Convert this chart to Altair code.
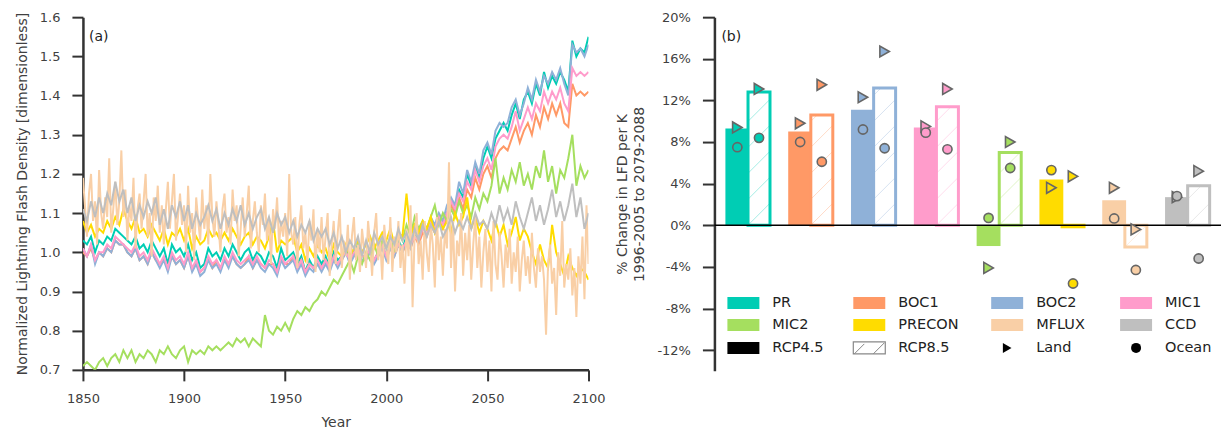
import altair as alt
import pandas as pd

# ---------------- data ----------------
models = ["PR", "BOC1", "BOC2", "MIC1", "MIC2", "PRECON", "MFLUX", "CCD"]
colors = ["#00CDB4", "#FF9966", "#8FB1D8", "#FF9CCB", "#A5DF5F", "#FFDC00", "#F9CFA6", "#BFBFBF"]

years = list(range(1850, 2101, 2))        # most series read every 2 years
years_annual = list(range(1850, 2101))    # MFLUX read every year (very noisy)

PR = [1.03, 1.02, 1.04, 1.00, 1.03,
      1.02, 1.04, 1.03, 1.06, 1.05,
      1.04, 1.03, 1.02, 1.04, 1.01,
      1.02, 1.00, 1.03, 1.01, 0.99,
      1.01, 0.97, 1.02, 1.00, 1.01,
      0.99, 1.02, 0.98, 1.00, 0.96,
      0.97, 1.01, 0.99, 1.00, 0.98,
      1.01, 0.99, 1.02, 1.00, 0.98,
      1.00, 1.01, 0.98, 1.00, 0.99,
      0.97, 1.00, 0.99, 0.96, 1.01,
      0.98, 0.99, 1.00, 0.97, 0.99,
      0.95, 0.98, 0.96, 0.99, 0.97,
      0.99, 0.96, 1.00, 0.98, 0.99,
      1.01, 0.98, 1.00, 1.02, 0.99,
      0.99, 1.01, 0.98, 1.00, 1.02,
      0.99, 1.02, 1.00, 1.03, 1.01,
      1.04, 1.02, 1.05, 1.03, 1.06,
      1.05, 1.08, 1.06, 1.09, 1.08,
      1.10, 1.13, 1.11, 1.16, 1.14,
      1.20, 1.17, 1.22, 1.19, 1.24,
      1.27, 1.24, 1.29, 1.31, 1.33,
      1.31, 1.35, 1.38, 1.34, 1.39,
      1.41, 1.38, 1.43, 1.40, 1.46,
      1.42, 1.45, 1.43, 1.46, 1.44,
      1.41, 1.54, 1.50, 1.52, 1.51,
      1.55]

BOC1 = [1.00, 0.99, 1.01, 0.98, 1.00,
        0.99, 1.01, 1.00, 1.03, 1.02,
        1.02, 1.00, 0.99, 1.01, 0.98,
        0.99, 0.97, 1.00, 0.98, 0.97,
        0.98, 0.96, 0.99, 0.97, 0.98,
        0.96, 0.99, 0.96, 0.97, 0.95,
        0.96, 0.98, 0.96, 0.98, 0.96,
        0.98, 0.97, 0.99, 0.97, 0.96,
        0.97, 0.99, 0.96, 0.98, 0.97,
        0.96, 0.97, 0.97, 0.95, 0.98,
        0.97, 0.97, 0.99, 0.96, 0.98,
        0.95, 0.97, 0.96, 0.97, 0.96,
        0.98, 0.96, 0.98, 0.97, 0.98,
        1.00, 0.98, 0.99, 1.01, 0.99,
        0.99, 1.00, 0.98, 1.00, 1.01,
        0.99, 1.01, 0.99, 1.02, 1.00,
        1.02, 1.01, 1.04, 1.02, 1.05,
        1.04, 1.07, 1.05, 1.08, 1.06,
        1.09, 1.12, 1.10, 1.14, 1.11,
        1.16, 1.14, 1.19, 1.16, 1.20,
        1.22, 1.19, 1.24, 1.26, 1.27,
        1.26, 1.29, 1.32, 1.28, 1.31,
        1.33, 1.30, 1.35, 1.32, 1.37,
        1.34, 1.38, 1.35, 1.38, 1.33,
        1.32, 1.43, 1.40, 1.41, 1.40,
        1.41]

BOC2 = [1.01, 0.99, 1.02, 0.97, 1.00,
        0.99, 1.01, 1.00, 1.03, 1.02,
        1.02, 1.00, 0.99, 1.01, 0.98,
        0.99, 0.97, 1.00, 0.98, 0.96,
        0.98, 0.95, 0.99, 0.97, 0.98,
        0.96, 0.99, 0.95, 0.97, 0.94,
        0.95, 0.98, 0.96, 0.97, 0.95,
        0.98, 0.96, 0.99, 0.97, 0.96,
        0.97, 0.98, 0.96, 0.98, 0.96,
        0.95, 0.97, 0.96, 0.94, 0.98,
        0.96, 0.97, 0.98, 0.95, 0.97,
        0.94, 0.96, 0.95, 0.97, 0.95,
        0.97, 0.95, 0.98, 0.96, 0.98,
        1.00, 0.97, 0.99, 1.01, 0.98,
        0.98, 1.00, 0.97, 0.99, 1.01,
        0.98, 1.01, 0.99, 1.02, 1.00,
        1.03, 1.01, 1.05, 1.04, 1.07,
        1.05, 1.09, 1.07, 1.10, 1.08,
        1.12, 1.14, 1.12, 1.18, 1.15,
        1.21, 1.18, 1.23, 1.20, 1.26,
        1.28, 1.25, 1.31, 1.33, 1.32,
        1.33, 1.37, 1.39, 1.35, 1.38,
        1.42, 1.39, 1.44, 1.41, 1.45,
        1.43, 1.46, 1.44, 1.47, 1.43,
        1.40, 1.53, 1.51, 1.52, 1.50,
        1.53]

MIC1 = [1.01, 0.99, 1.02, 0.98, 1.00,
        1.00, 1.02, 1.01, 1.04, 1.03,
        1.02, 1.01, 1.00, 1.02, 0.99,
        1.00, 0.98, 1.01, 0.99, 0.97,
        0.99, 0.96, 1.00, 0.98, 0.99,
        0.97, 1.00, 0.96, 0.98, 0.95,
        0.96, 0.99, 0.97, 0.98, 0.96,
        0.99, 0.97, 1.00, 0.98, 0.97,
        0.98, 0.99, 0.97, 0.99, 0.97,
        0.96, 0.98, 0.97, 0.95, 0.99,
        0.97, 0.98, 0.99, 0.96, 0.98,
        0.95, 0.97, 0.96, 0.98, 0.96,
        0.98, 0.96, 0.99, 0.97, 0.99,
        1.00, 0.98, 1.00, 1.01, 0.99,
        0.99, 1.01, 0.98, 1.00, 1.02,
        0.99, 1.02, 1.00, 1.02, 1.01,
        1.03, 1.02, 1.04, 1.03, 1.06,
        1.05, 1.08, 1.06, 1.09, 1.07,
        1.10, 1.13, 1.11, 1.15, 1.13,
        1.18, 1.16, 1.21, 1.18, 1.22,
        1.24, 1.21, 1.27, 1.29, 1.30,
        1.29, 1.32, 1.36, 1.31, 1.34,
        1.37, 1.34, 1.38, 1.36, 1.41,
        1.38, 1.41, 1.39, 1.42, 1.38,
        1.36, 1.47, 1.45, 1.46, 1.45,
        1.46]

MIC2 = [0.71, 0.72, 0.71, 0.70, 0.72,
        0.73, 0.71, 0.73, 0.74, 0.72,
        0.75, 0.73, 0.75, 0.72, 0.74,
        0.73, 0.75, 0.74, 0.72, 0.75,
        0.74, 0.76, 0.74, 0.73, 0.75,
        0.76, 0.72, 0.75, 0.74, 0.75,
        0.74, 0.76, 0.75, 0.76, 0.75,
        0.76, 0.77, 0.76, 0.78, 0.77,
        0.78, 0.76, 0.78, 0.77, 0.76,
        0.84, 0.80, 0.79, 0.81, 0.80,
        0.82, 0.80, 0.83, 0.85, 0.84,
        0.86, 0.85, 0.87, 0.88, 0.90,
        0.89, 0.91, 0.93, 0.92, 0.94,
        0.96, 0.98, 0.95, 0.99, 0.97,
        1.00, 0.98, 1.02, 0.99, 1.03,
        1.01, 1.04, 1.00, 1.05, 1.03,
        1.07, 1.04, 1.09, 1.06, 1.08,
        1.06, 1.09, 1.12, 1.07, 1.10,
        1.08, 1.11, 1.09, 1.13, 1.10,
        1.12, 1.09, 1.14, 1.11, 1.15,
        1.13, 1.17, 1.24, 1.15, 1.19,
        1.16, 1.21, 1.18, 1.23, 1.17,
        1.20, 1.16, 1.22, 1.19, 1.26,
        1.18, 1.22, 1.15, 1.21, 1.19,
        1.24, 1.30, 1.17, 1.22, 1.19,
        1.21]

PRECON = [1.08, 1.05, 1.07, 1.04, 1.06,
          1.05, 1.08, 1.06, 1.09, 1.07,
          1.11, 1.08, 1.06, 1.09, 1.05,
          1.06, 1.04, 1.07, 1.05, 1.03,
          1.06, 1.02, 1.05, 1.04, 1.06,
          1.03, 1.06, 1.01, 1.04, 1.02,
          1.03, 1.06, 1.04, 1.05, 1.03,
          1.05, 1.03, 1.06, 1.04, 1.02,
          1.04, 1.05, 1.02, 1.04, 1.03,
          1.01, 1.04, 1.08, 1.00, 1.03,
          1.02, 1.03, 1.04, 1.00, 1.02,
          0.98, 1.01, 0.99, 1.02, 1.00,
          1.01, 0.98, 1.02, 1.00, 0.99,
          1.02, 0.99, 1.01, 1.03, 1.00,
          1.02, 1.04, 1.01, 1.03, 1.05,
          1.03, 1.06, 1.02, 1.05, 1.04,
          1.15, 1.04, 1.07, 1.05, 1.08,
          1.06, 1.09, 1.05, 1.08, 1.06,
          1.08, 1.05, 1.10, 1.07, 1.09,
          1.14, 1.06, 1.09, 1.05, 1.08,
          1.06, 1.03, 1.08, 1.04, 1.07,
          1.02, 1.05, 1.09, 1.03, 1.06,
          1.04, 1.00, 0.97, 1.02, 0.98,
          0.96, 1.07, 1.00, 0.97, 0.94,
          0.99, 0.96, 0.94, 0.96, 0.95,
          0.93]

MFLUX = [1.19, 1.12, 1.04, 1.15, 1.20, 1.08, 1.13, 1.02, 1.21, 1.10,
         1.06, 1.14, 1.09, 1.24, 1.05, 1.11, 1.18, 1.07, 1.13, 1.26,
         1.09, 1.16, 1.03, 1.12, 1.08, 1.19, 1.01, 1.11, 1.15, 1.06,
         1.13, 1.20, 1.04, 1.10, 0.99, 1.14, 1.08, 1.17, 1.05, 1.12,
         1.02, 1.11, 1.18, 1.06, 1.13, 1.20, 1.03, 1.09, 1.15, 1.07,
         1.12, 1.00, 1.17, 1.05, 1.10, 0.98, 1.14, 1.08, 1.03, 1.16,
         1.06, 1.12, 1.02, 1.20, 1.09, 1.04, 1.13, 1.07, 1.00, 1.11,
         1.15, 1.05, 1.09, 1.02, 1.16, 1.08, 1.12, 0.99, 1.06, 1.14,
         1.04, 1.10, 1.17, 1.01, 1.08, 1.13, 1.05, 1.00, 1.12, 1.07,
         1.15, 1.03, 1.09, 0.97, 1.11, 1.06, 1.14, 1.02, 1.08, 1.04,
         1.10, 0.99, 1.20, 1.05, 1.02, 1.09, 0.96, 1.07, 1.12, 1.01,
         1.05, 0.97, 1.08, 1.03, 1.11, 0.95, 1.06, 1.00, 1.09, 0.98,
         1.04, 1.10, 0.94, 1.02, 1.08, 0.97, 1.05, 1.11, 0.96, 1.03,
         0.99, 1.07, 0.93, 1.04, 1.09, 0.98, 1.02, 0.95, 1.06, 1.01,
         0.96, 1.08, 1.02, 0.94, 1.05, 1.10, 0.98, 1.03, 0.93, 1.07,
         1.01, 0.97, 1.09, 0.95, 1.04, 1.00, 1.08, 0.96, 1.02, 0.92,
         1.06, 0.99, 1.12, 0.86, 1.04, 1.10, 0.97, 1.03, 0.93, 1.08,
         1.00, 0.95, 1.07, 1.02, 0.91, 1.09, 0.98, 1.04, 0.94, 1.06,
         1.01, 1.23, 0.96, 1.08, 0.90, 1.03, 0.99, 1.10, 0.94, 1.05,
         0.98, 1.07, 0.93, 1.02, 1.09, 0.96, 1.04, 0.91, 1.00, 1.06,
         0.95, 1.03, 0.90, 1.08, 0.97, 0.93, 1.05, 0.99, 0.91, 1.02,
         0.96, 1.06, 0.92, 1.00, 0.95, 1.04, 0.90, 0.98, 1.03, 0.94,
         0.99, 0.92, 1.05, 0.96, 0.91, 1.01, 0.95, 0.99, 0.93, 0.79,
         0.97, 1.02, 0.92, 0.96, 0.84, 1.00, 0.94, 1.08, 0.91, 0.97,
         0.93, 1.01, 0.89, 0.96, 0.835, 0.99, 0.92, 1.04, 0.88, 1.12,
         0.97]

CCD = [1.11, 1.08, 1.13, 1.09, 1.14,
       1.10, 1.15, 1.12, 1.18, 1.13,
       1.16, 1.10, 1.14, 1.08, 1.12,
       1.09, 1.13, 1.10, 1.14, 1.07,
       1.11, 1.06, 1.12, 1.09, 1.13,
       1.08, 1.12, 1.06, 1.10, 1.07,
       1.09, 1.12, 1.08, 1.11, 1.06,
       1.10, 1.07, 1.11, 1.08, 1.12,
       1.07, 1.10, 1.06, 1.09, 1.11,
       1.06, 1.09, 1.05, 1.10, 1.07,
       1.09, 1.05, 1.08, 1.04, 1.07,
       1.05, 1.08, 1.03, 1.06, 1.04,
       1.06, 1.02, 1.05, 1.01, 1.04,
       1.00, 1.03, 1.01, 1.04, 0.99,
       1.03, 1.00, 1.05, 1.02, 1.04,
       1.01, 1.04, 1.02, 1.06, 1.03,
       1.05, 1.02, 1.06, 1.03, 1.07,
       1.04, 1.07, 1.05, 1.08, 1.04,
       1.06, 1.09, 1.05, 1.08, 1.06,
       1.09, 1.06, 1.10, 1.07, 1.08,
       1.06, 1.10, 1.07, 1.12, 1.08,
       1.11, 1.07, 1.13, 1.09, 1.06,
       1.10, 1.14, 1.08, 1.12, 1.07,
       1.11, 1.16, 1.09, 1.13, 1.08,
       1.12, 1.175, 1.09, 1.14, 1.06,
       1.10]

series = [PR, BOC1, BOC2, MIC1, MIC2, PRECON, MFLUX, CCD]
series_years = [years, years, years, years, years, years, years_annual, years]

# panel (b): % change in LFD per K
rcp45_total = [9.3, 9.0, 11.1, 9.4, -2.0, 4.4, 2.4, 2.7]
rcp85_total = [12.8, 10.6, 13.2, 11.4, 7.0, -0.15, -2.1, 3.8]
rcp45_land = [9.4, 9.8, 12.3, 9.5, -4.1, 3.6, 3.6, 2.7]
rcp45_ocean = [7.5, 8.0, 9.2, 8.9, 0.7, 5.3, 0.65, 2.8]
rcp85_land = [13.1, 13.5, 16.7, 13.1, 8.0, 4.7, -0.4, 5.2]
rcp85_ocean = [8.4, 6.1, 7.4, 7.3, 5.5, -5.6, -4.3, -3.2]

scen_labels = ["RCP4.5", "RCP8.5"]
region_labels = ["Land", "Ocean"]

# ---------------- style constants ----------------
FONT = "DejaVu Sans"
TXT = "#404040"
AX = "#333333"

axis_common = dict(domainColor=AX, domainWidth=2.5, tickColor=AX, tickWidth=2,
                   tickSize=11, labelFont=FONT, labelFontSize=13, labelColor=TXT,
                   titleFont=FONT, titleFontSize=14, titleColor=TXT,
                   titleFontWeight="normal", grid=False, labelPadding=12,
                   labelFlush=False, labelOverlap=False)

# ---------------- panel (a) ----------------
rows = []
for m, yrs, vals in zip(models, series_years, series):
    assert len(vals) == len(yrs), (m, len(vals))
    for y, v in zip(yrs, vals):
        rows.append({"year": y, "value": v, "model": m, "ord": models.index(m)})
ts = pd.DataFrame(rows)

cscale = alt.Scale(domain=models, range=colors)

W, H = 506, 353

lines = alt.Chart(ts).mark_line(strokeWidth=2, clip=True).encode(
    x=alt.X("year:Q", scale=alt.Scale(domain=[1850, 2100], nice=False, zero=False),
            axis=alt.Axis(values=[1850, 1900, 1950, 2000, 2050, 2100], format="d",
                          title="Year", titlePadding=10, **axis_common)),
    y=alt.Y("value:Q", scale=alt.Scale(domain=[0.7, 1.6], nice=False, zero=False),
            axis=alt.Axis(values=[0.7, 0.8, 0.9, 1.0, 1.1, 1.2, 1.3, 1.4, 1.5, 1.6],
                          format=".1f",
                          title="Normalized Lightning Flash Density [dimensionless]",
                          titlePadding=10, **axis_common)),
    color=alt.Color("model:N", scale=cscale, legend=None),
    order=alt.Order("ord:Q"),
)

label_a = alt.Chart(pd.DataFrame({"t": ["(a)"]})).mark_text(
    align="left", baseline="middle", font=FONT, fontSize=14, color="#222"
).encode(x=alt.value(6), y=alt.value(20), text="t:N")

left = alt.layer(lines, label_a).properties(width=W, height=H)

# ---------------- panel (b) ----------------
W2, H2 = 506, 354
XDOM = [-0.175, 7.875]
YDOM = [-14, 20]
pxu = W2 / (XDOM[1] - XDOM[0])   # px per group unit
pyu = H2 / (YDOM[1] - YDOM[0])   # px per percent

F0, F1 = 0.0, 0.38        # filled (RCP4.5) bar span within a group
H0, H1 = 0.36, 0.71       # hatched (RCP8.5) bar span within a group
C45, C85 = (F0 + F1) / 2, (H0 + H1) / 2

bars = pd.DataFrame({
    "model": models,
    "g": list(range(len(models))),
    "v45": rcp45_total,
    "v85": rcp85_total,
})
bars["x45a"] = bars["g"] + F0
bars["x45b"] = bars["g"] + F1
bars["x85a"] = bars["g"] + H0
bars["x85b"] = bars["g"] + H1
bars["zero"] = 0.0

xs = alt.Scale(domain=XDOM, nice=False, zero=False)
ys = alt.Scale(domain=YDOM, nice=False, zero=False)

axis_b = dict(axis_common)
axis_b["tickSize"] = 12
yaxis_b = alt.Axis(values=[-12, -8, -4, 0, 4, 8, 12, 16, 20],
                   labelExpr="datum.value + '%'",
                   title=["% Change in LFD per K", "1996-2005 to 2079-2088"],
                   titlePadding=10, titleLineHeight=17, **axis_b)

bar45 = alt.Chart(bars).mark_rect().encode(
    x=alt.X("x45a:Q", scale=xs, axis=None),
    x2="x45b:Q",
    y=alt.Y("zero:Q", scale=ys, axis=yaxis_b),
    y2="v45:Q",
    fill=alt.Fill("model:N", scale=cscale, legend=None),
)

bar85 = alt.Chart(bars).mark_rect(fill="white", strokeWidth=3).encode(
    x=alt.X("x85a:Q", scale=xs, axis=None),
    x2="x85b:Q",
    y=alt.Y("zero:Q", scale=ys, axis=yaxis_b),
    y2="v85:Q",
    stroke=alt.Stroke("model:N", scale=cscale, legend=None),
)

# hatch lines ("/") inside the RCP8.5 bars, built from the bar values
SPACING = 26.0
hrows = []
bw_px = (H1 - H0) * pxu
for g, (m, v) in enumerate(zip(models, rcp85_total)):
    b, t = min(0.0, v), max(0.0, v)
    h_px = (t - b) * pyu
    k = -2
    while True:
        s = k * SPACING
        if s > h_px:
            break
        x0p, y0p, x1p, y1p = 0.0, s, bw_px, s + bw_px
        if y1p > 0 and y0p < h_px:
            if y0p < 0:
                x0p += -y0p
                y0p = 0.0
            if y1p > h_px:
                x1p -= (y1p - h_px)
                y1p = h_px
            hrows.append({"model": m,
                          "hx": g + H0 + x0p / pxu, "hx2": g + H0 + x1p / pxu,
                          "hy": b + y0p / pyu, "hy2": b + y1p / pyu})
        k += 1
hatch = alt.Chart(pd.DataFrame(hrows)).mark_rule(strokeWidth=0.8, opacity=0.45).encode(
    x=alt.X("hx:Q", scale=xs, axis=None), x2="hx2:Q",
    y=alt.Y("hy:Q", scale=ys, axis=yaxis_b), y2="hy2:Q",
    color=alt.Color("model:N", scale=cscale, legend=None),
)

zero_line = alt.Chart(pd.DataFrame({"z": [0.0]})).mark_rule(color="black", strokeWidth=1.5).encode(
    y=alt.Y("z:Q", scale=ys, axis=yaxis_b), x=alt.value(0), x2=alt.value(W2 + 1),
)

prow = []
for i, m in enumerate(models):
    prow.append({"model": m, "px": i + C45, "val": rcp45_land[i], "region": "Land"})
    prow.append({"model": m, "px": i + C45, "val": rcp45_ocean[i], "region": "Ocean"})
    prow.append({"model": m, "px": i + C85, "val": rcp85_land[i], "region": "Land"})
    prow.append({"model": m, "px": i + C85, "val": rcp85_ocean[i], "region": "Ocean"})
pts = pd.DataFrame(prow)
shape_scale = alt.Scale(domain=region_labels, range=["triangle-right", "circle"])

markers = alt.Chart(pts).mark_point(filled=True, stroke="#666666", strokeWidth=1.6,
                                    opacity=1, fillOpacity=1).encode(
    x=alt.X("px:Q", scale=xs, axis=None),
    y=alt.Y("val:Q", scale=ys, axis=yaxis_b),
    fill=alt.Fill("model:N", scale=cscale, legend=None),
    shape=alt.Shape("region:N", scale=shape_scale, legend=None),
    size=alt.Size("region:N", scale=alt.Scale(domain=region_labels, range=[120, 85]), legend=None),
)

# ---------------- manual legend (4 columns x 3 rows) ----------------
leg_names = models + scen_labels + region_labels
COLS_PX = [13, 139, 277, 406]       # swatch left, px from plot left
ROWS_PX = [286, 308, 331]           # row centre, px from plot top
SW_W, SW_H, LAB_DX = 32, 12, 45


def ux(px):
    return XDOM[0] + px / pxu


def uy(py):
    return YDOM[1] - py / pyu


lrows = []
for i, name in enumerate(leg_names):
    c, r = i % 4, i // 4
    lrows.append({"name": name, "kind": ("model" if i < 8 else ("scen" if i < 10 else "region")),
                  "sx": ux(COLS_PX[c]), "sx2": ux(COLS_PX[c] + SW_W),
                  "sxc": ux(COLS_PX[c] + SW_W / 2),
                  "sy": uy(ROWS_PX[r] - SW_H / 2), "sy2": uy(ROWS_PX[r] + SW_H / 2),
                  "syc": uy(ROWS_PX[r]),
                  "lx": ux(COLS_PX[c] + LAB_DX)})
leg = pd.DataFrame(lrows)

leg_base = alt.Chart(leg)
leg_model = leg_base.transform_filter("datum.kind == 'model'").mark_rect().encode(
    x=alt.X("sx:Q", scale=xs, axis=None), x2="sx2:Q",
    y=alt.Y("sy:Q", scale=ys, axis=yaxis_b), y2="sy2:Q",
    fill=alt.Fill("name:N", scale=cscale, legend=None),
)
leg_45 = leg_base.transform_filter("datum.name == 'RCP4.5'").mark_rect(fill="black").encode(
    x=alt.X("sx:Q", scale=xs, axis=None), x2="sx2:Q",
    y=alt.Y("sy:Q", scale=ys, axis=yaxis_b), y2="sy2:Q",
)
leg_85 = leg_base.transform_filter("datum.name == 'RCP8.5'").mark_rect(
    fill="white", stroke="#888888", strokeWidth=1.2).encode(
    x=alt.X("sx:Q", scale=xs, axis=None), x2="sx2:Q",
    y=alt.Y("sy:Q", scale=ys, axis=yaxis_b), y2="sy2:Q",
)
r85 = leg_names.index("RCP8.5")
c85, rr85 = r85 % 4, r85 // 4
lh = pd.DataFrame({
    "hx": [ux(COLS_PX[c85] + 1), ux(COLS_PX[c85] + 20)],
    "hx2": [ux(COLS_PX[c85] + 11), ux(COLS_PX[c85] + 31)],
    "hy": [uy(ROWS_PX[rr85] + 6), uy(ROWS_PX[rr85] + 6)],
    "hy2": [uy(ROWS_PX[rr85] - 4), uy(ROWS_PX[rr85] - 5)],
})
leg_85h = alt.Chart(lh).mark_rule(color="#888888", strokeWidth=1).encode(
    x=alt.X("hx:Q", scale=xs, axis=None), x2="hx2:Q",
    y=alt.Y("hy:Q", scale=ys, axis=yaxis_b), y2="hy2:Q",
)
leg_sym = leg_base.transform_filter("datum.kind == 'region'").mark_point(
    filled=True, color="black", opacity=1).encode(
    x=alt.X("sxc:Q", scale=xs, axis=None),
    y=alt.Y("syc:Q", scale=ys, axis=yaxis_b),
    shape=alt.Shape("name:N", scale=shape_scale, legend=None),
    size=alt.value(100),
)
leg_text = leg_base.mark_text(align="left", baseline="middle", font=FONT,
                              fontSize=14.5, color="#222222").encode(
    x=alt.X("lx:Q", scale=xs, axis=None),
    y=alt.Y("syc:Q", scale=ys, axis=yaxis_b),
    text="name:N",
)

label_b = alt.Chart(pd.DataFrame({"t": ["(b)"]})).mark_text(
    align="left", baseline="middle", font=FONT, fontSize=14, color="#222"
).encode(x=alt.value(7), y=alt.value(20), text="t:N")

right = alt.layer(bar45, bar85, hatch, zero_line, markers,
                  leg_model, leg_45, leg_85, leg_85h, leg_sym, leg_text, label_b
                  ).properties(width=W2, height=H2)

chart = alt.hconcat(left, right, spacing=10).properties(
    padding={"left": 15, "top": 11, "right": 2, "bottom": 2},
    background="white",
).configure_view(stroke=None)

chart.save("out.html", embed_options={"renderer": "svg", "actions": False})
